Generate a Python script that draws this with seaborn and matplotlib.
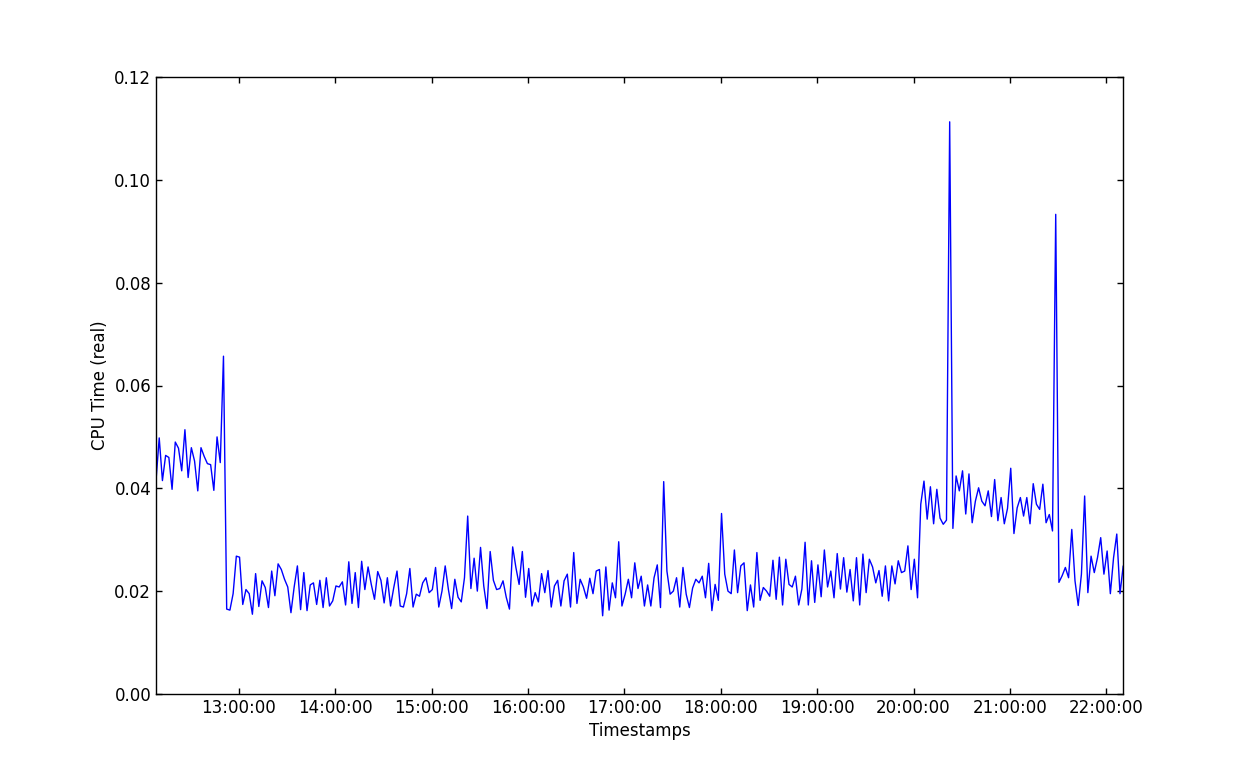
import seaborn as sns
import pandas as pd
import numpy as np
import matplotlib
matplotlib.use("Agg")
import matplotlib.pyplot as plt
import matplotlib.dates as mdates

# CPU time samples, every 2 minutes starting 12:08:30
before_drop = [0.0415, 0.0498, 0.0415, 0.0464, 0.0460, 0.0398, 0.0490, 0.0478, 0.0434, 0.0514,
               0.0421, 0.0479, 0.0453, 0.0395, 0.0479, 0.0462, 0.0448, 0.0446, 0.0396, 0.0500,
               0.0450, 0.0657]
early_afternoon = [0.0165, 0.0163, 0.0195, 0.0268, 0.0266, 0.0174, 0.0203, 0.0195, 0.0155, 0.0234,
                   0.0170, 0.0220, 0.0207, 0.0168, 0.0239,
                   0.0191, 0.0253, 0.0242, 0.0223, 0.0208, 0.0158, 0.0208, 0.0249, 0.0164, 0.0236,
                   0.0162, 0.0212, 0.0216, 0.0174, 0.0221, 0.0168, 0.0226, 0.0171, 0.0181, 0.0210,
                   0.0208, 0.0218, 0.0173, 0.0257, 0.0176, 0.0236, 0.0168, 0.0258, 0.0203, 0.0247,
                   0.0213, 0.0184, 0.0238, 0.0221, 0.0177, 0.0226, 0.0171, 0.0207, 0.0239, 0.0171]
mid_afternoon = [0.0169, 0.0195, 0.0244, 0.0169, 0.0194, 0.0190, 0.0216, 0.0226, 0.0197, 0.0203,
                 0.0246, 0.0169, 0.0200, 0.0249, 0.0203, 0.0166, 0.0223, 0.0188, 0.0179, 0.0226,
                 0.0346,
                 0.0205, 0.0264, 0.0200, 0.0285, 0.0210, 0.0166, 0.0277, 0.0221, 0.0203, 0.0205,
                 0.0220, 0.0188, 0.0165, 0.0286, 0.0246, 0.0213, 0.0277, 0.0188, 0.0244]
late_afternoon = [0.0171, 0.0197, 0.0179, 0.0234, 0.0197, 0.0240, 0.0169, 0.0210, 0.0221, 0.0171,
                  0.0220, 0.0233, 0.0169, 0.0275, 0.0176, 0.0223, 0.0208, 0.0186, 0.0225, 0.0195,
                  0.0239, 0.0242, 0.0152, 0.0247, 0.0163, 0.0216, 0.0187, 0.0296, 0.0171, 0.0194,
                  0.0223, 0.0187, 0.0255, 0.0205, 0.0229, 0.0171, 0.0212, 0.0171, 0.0226]
evening = [0.0251, 0.0168, 0.0413, 0.0239, 0.0194, 0.0200, 0.0226, 0.0169, 0.0246, 0.0194,
           0.0168, 0.0206, 0.0223, 0.0216, 0.0229, 0.0187, 0.0254, 0.0162, 0.0213, 0.0182,
           0.0351,
           0.0233, 0.0200, 0.0195, 0.0280, 0.0197, 0.0249, 0.0255, 0.0162, 0.0212, 0.0169,
           0.0275, 0.0182, 0.0207, 0.0200, 0.0190, 0.0260, 0.0184, 0.0266]
before_eight = [0.0173, 0.0262, 0.0213, 0.0208, 0.0229, 0.0173, 0.0204, 0.0295, 0.0173, 0.0259,
                0.0178, 0.0251, 0.0189, 0.0280, 0.0208, 0.0239, 0.0187, 0.0273, 0.0204, 0.0265,
                0.0198, 0.0242, 0.0181, 0.0265, 0.0173, 0.0272, 0.0197, 0.0262, 0.0247, 0.0216,
                0.0240, 0.0190, 0.0249, 0.0181, 0.0249, 0.0214, 0.0259, 0.0236,
                0.0239, 0.0288, 0.0203, 0.0262, 0.0187]
night = [0.0369, 0.0414, 0.0340, 0.0403, 0.0331, 0.0398, 0.0342, 0.0330, 0.0338, 0.1113,
         0.0322, 0.0424, 0.0395, 0.0434, 0.0350, 0.0428, 0.0333, 0.0375, 0.0401, 0.0375,
         0.0366, 0.0395, 0.0345, 0.0417, 0.0337, 0.0382, 0.0331, 0.0361, 0.0439, 0.0312,
         0.0362, 0.0382, 0.0346, 0.0382,
         0.0331, 0.0409, 0.0369, 0.0359, 0.0408, 0.0333, 0.0349, 0.0317, 0.0933]
after_spike = [0.0217, 0.0230, 0.0246, 0.0226, 0.0320, 0.0220, 0.0172, 0.0233, 0.0385, 0.0197,
               0.0268, 0.0236, 0.0265, 0.0304, 0.0233, 0.0278, 0.0195, 0.0265, 0.0311, 0.0195,
               0.0249]

cpu = before_drop + early_afternoon + mid_afternoon + late_afternoon + evening + before_eight + night + after_spike
times = pd.date_range("2013-05-14 12:08:30", periods=len(cpu), freq="2min")
df = pd.DataFrame({"time": times, "cpu": cpu})

sns.set_style("white")
plt.rcParams['font.family'] = ['DejaVu Sans']
plt.rcParams.update({
    "font.size": 12,
    "text.color": "black", "axes.labelcolor": "black",
    "xtick.direction": "in", "ytick.direction": "in",
    "xtick.top": True, "ytick.right": True,
    "xtick.bottom": True, "ytick.left": True,
    "xtick.major.size": 4, "ytick.major.size": 4,
    "axes.edgecolor": "black", "axes.linewidth": 1.0,
    "xtick.color": "black", "ytick.color": "black",
})

fig = plt.figure(figsize=(12.48, 7.71), dpi=100)
ax = fig.add_axes([0.125, 0.1, 0.775, 0.8])
sns.lineplot(data=df, x="time", y="cpu", color="blue", linewidth=1.0, ax=ax)

ax.set_xlim(df["time"].iloc[0], df["time"].iloc[-1])
ax.set_ylim(0, 0.12)
ax.set_yticks(np.arange(0, 0.121, 0.02))
ax.yaxis.set_major_formatter(matplotlib.ticker.FormatStrFormatter('%.2f'))
ax.xaxis.set_major_locator(mdates.HourLocator())
ax.xaxis.set_major_formatter(mdates.DateFormatter('%H:%M:%S'))
ax.tick_params(labelsize=12, width=1, length=4, colors="black")
ax.set_xlabel("Timestamps", fontsize=12, color="black")
ax.set_ylabel("CPU Time (real)", fontsize=12, color="black")

plt.savefig("out.png", dpi=100)
